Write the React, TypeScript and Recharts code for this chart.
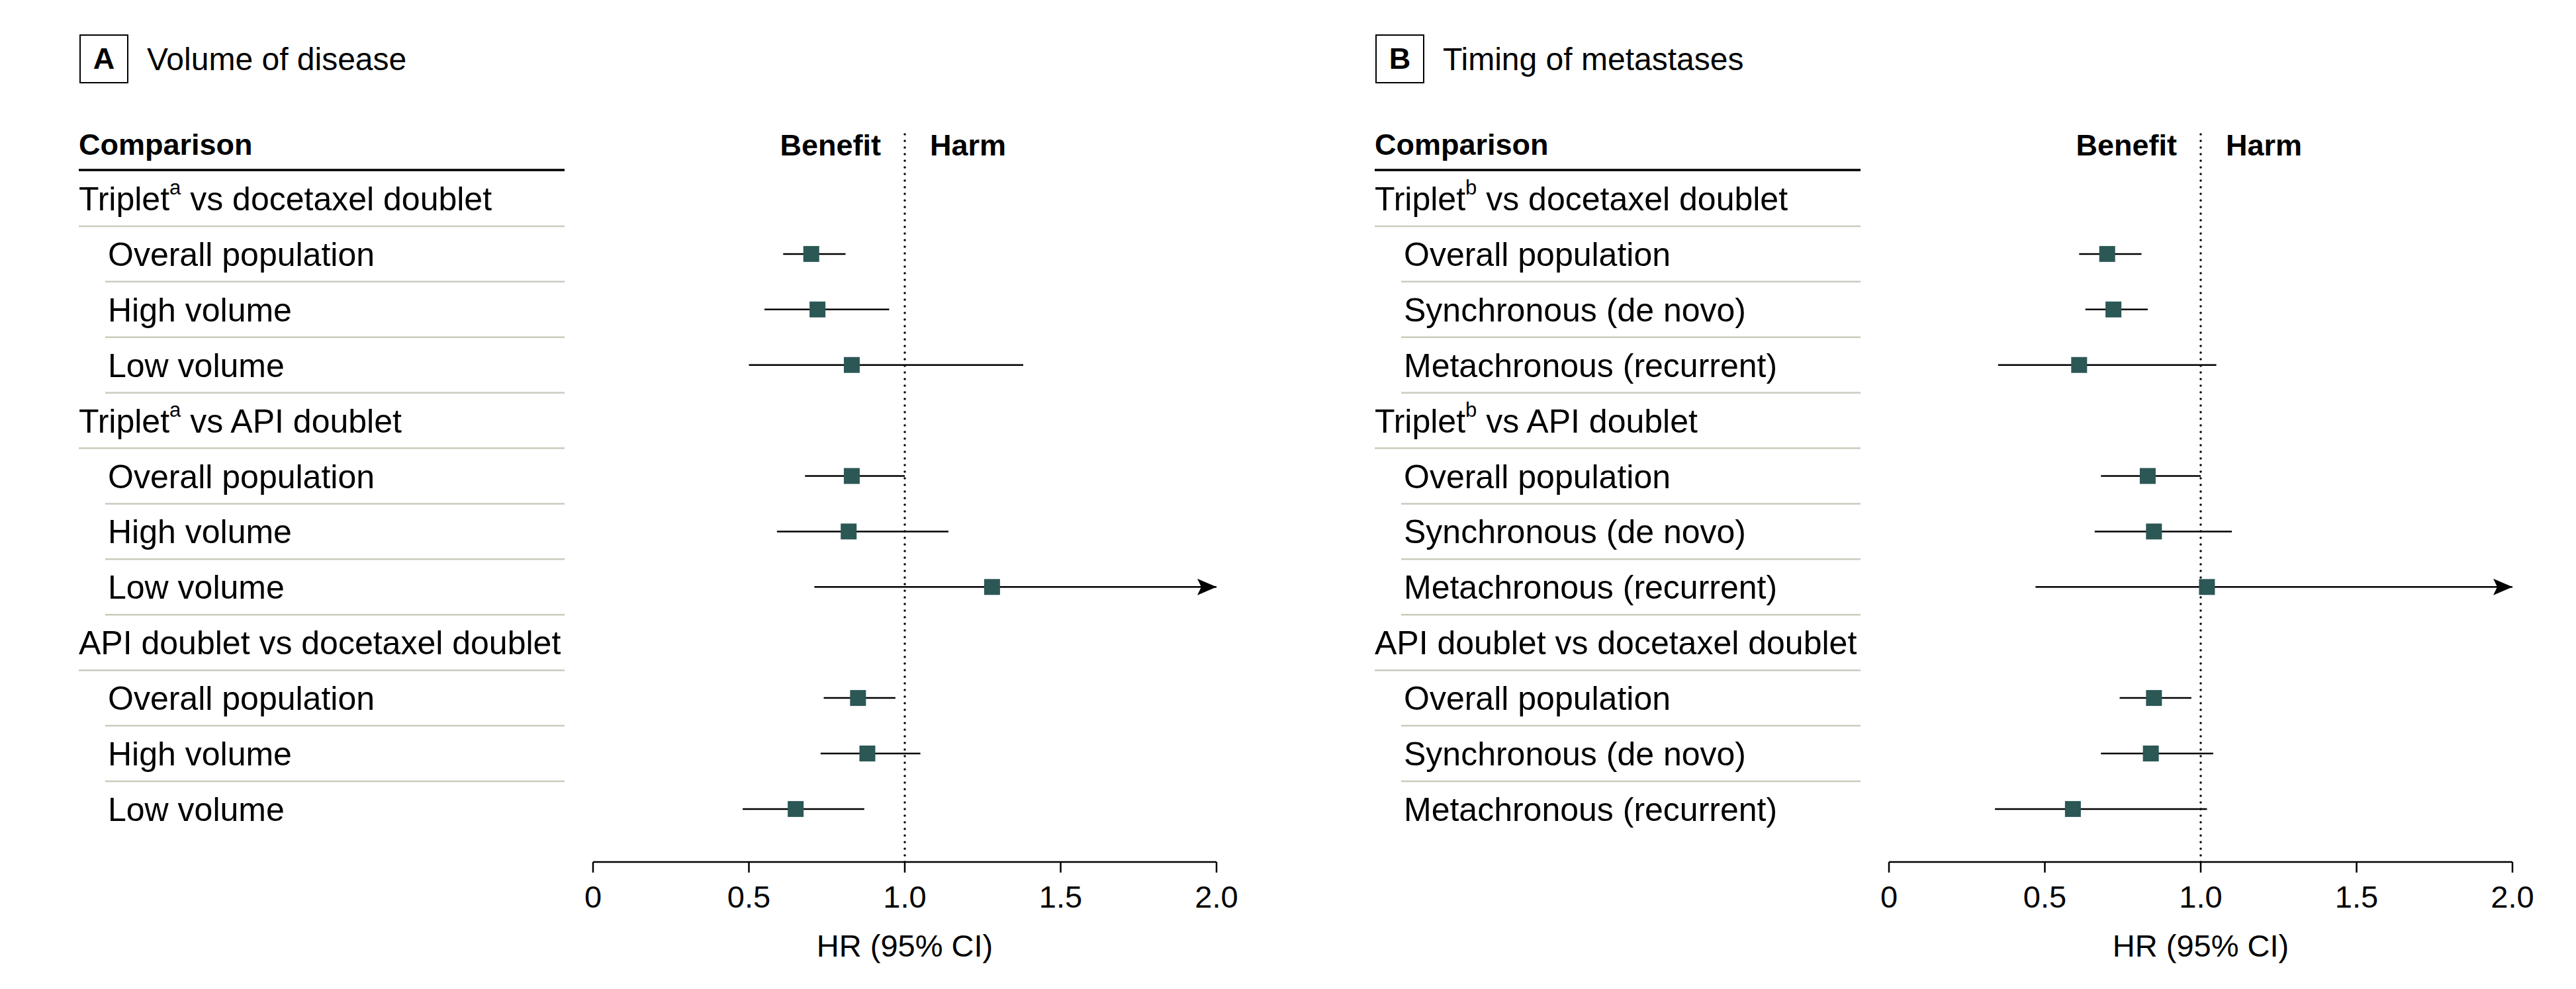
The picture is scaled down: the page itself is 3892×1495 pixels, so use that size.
import { ErrorBar, ReferenceLine, Scatter, ScatterChart, XAxis, YAxis } from 'recharts'

const FONT = '"Liberation Sans", Arial, sans-serif'
const X_MAX = 2
// upper CI runs past the end of the axis, drawn as an arrow
const PAST_AXIS = Infinity

const xTicks = [0, 0.5, 1, 1.5, 2]

// Panel A: volume of disease
const volumeLabels = [
  'Triplet^a vs docetaxel doublet',
  'Overall population',
  'High volume',
  'Low volume',
  'Triplet^a vs API doublet',
  'Overall population',
  'High volume',
  'Low volume',
  'API doublet vs docetaxel doublet',
  'Overall population',
  'High volume',
  'Low volume',
]
const volumeHr = [null, 0.7, 0.72, 0.83, null, 0.83, 0.82, 1.28, null, 0.85, 0.88, 0.65]
const volumeLow = [null, 0.61, 0.55, 0.5, null, 0.68, 0.59, 0.71, null, 0.74, 0.73, 0.48]
const volumeHigh = [null, 0.81, 0.95, 1.38, null, 1.0, 1.14, PAST_AXIS, null, 0.97, 1.05, 0.87]

// Panel B: timing of metastases
const timingLabels = [
  'Triplet^b vs docetaxel doublet',
  'Overall population',
  'Synchronous (de novo)',
  'Metachronous (recurrent)',
  'Triplet^b vs API doublet',
  'Overall population',
  'Synchronous (de novo)',
  'Metachronous (recurrent)',
  'API doublet vs docetaxel doublet',
  'Overall population',
  'Synchronous (de novo)',
  'Metachronous (recurrent)',
]
const timingHr = [null, 0.7, 0.72, 0.61, null, 0.83, 0.85, 1.02, null, 0.85, 0.84, 0.59]
const timingLow = [null, 0.61, 0.63, 0.35, null, 0.68, 0.66, 0.47, null, 0.74, 0.68, 0.34]
const timingHigh = [null, 0.81, 0.83, 1.05, null, 1.0, 1.1, PAST_AXIS, null, 0.97, 1.04, 1.02]

// layout (px, inside each panel)
const CHART_H = 1495
const PLOT_LEFT = 896
const PLOT_RIGHT = 1838
const PLOT_TOP = 200
const PLOT_BOTTOM = 1303
const FIRST_ROW_Y = 300
const ROW_H = 83.9
const LABEL_X = 119
const SUB_X = 163
const COL_RIGHT = 853
const TEAL = '#2b5755'
const RULE = '#c9ccbd'

type Num = number | null

function buildPoints(hr: Num[], lo: Num[], hi: Num[]) {
  return hr
    .map((v, i) =>
      v == null ? null : { y: i, x: v, err: [v - (lo[i] as number), Math.min(hi[i] as number, X_MAX) - v] },
    )
    .filter(Boolean)
}

function buildArrows(hi: Num[]) {
  return hi.map((v, i) => (v != null && v > X_MAX ? { y: i, x: X_MAX } : null)).filter(Boolean)
}

function RowTick(props: any) {
  const { y, payload, labels, hr } = props
  const i = payload.value as number
  const label: string = labels[i]
  const isGroup = hr[i] == null
  const m = label.match(/^(.*?)\^(\w)(.*)$/)
  return (
    <g>
      <text x={isGroup ? LABEL_X : SUB_X} y={y} dy="0.36em" fontSize={50} fontFamily={FONT} fill="#000">
        {m ? (
          <>
            {m[1]}
            <tspan dy={-24} fontSize={31}>
              {m[2]}
            </tspan>
            <tspan dy={24}>{m[3]}</tspan>
          </>
        ) : (
          label
        )}
      </text>
      {i < labels.length - 1 && (
        <line
          x1={isGroup ? LABEL_X : SUB_X - 4}
          x2={COL_RIGHT}
          y1={y + ROW_H / 2}
          y2={y + ROW_H / 2}
          stroke={RULE}
          strokeWidth={2.5}
        />
      )}
    </g>
  )
}

function ColumnHeader() {
  return (
    <g>
      <text x={LABEL_X} y={218} dy="0.36em" fontSize={45} fontWeight="bold" fontFamily={FONT} fill="#000">
        Comparison
      </text>
      <line x1={LABEL_X} x2={COL_RIGHT} y1={257} y2={257} stroke="#000" strokeWidth={3.5} />
    </g>
  )
}

function BenefitHarm(props: any) {
  const x = props.viewBox?.x ?? 0
  const y = PLOT_TOP + 19
  return (
    <g fontSize={45} fontWeight="bold" fontFamily={FONT} fill="#000">
      <text x={x - 36} y={y} dy="0.36em" textAnchor="end">
        Benefit
      </text>
      <text x={x + 38} y={y} dy="0.36em" textAnchor="start">
        Harm
      </text>
    </g>
  )
}

const Square = ({ cx, cy }: any) => <rect x={cx - 12} y={cy - 12} width={24} height={24} fill={TEAL} />

const ArrowHead = ({ cx, cy }: any) => (
  <path d={`M${cx},${cy} L${cx - 29},${cy - 12.5} L${cx - 23},${cy} L${cx - 29},${cy + 12.5} Z`} fill="#000" />
)

interface PanelProps {
  left: number
  width: number
  letter: string
  title: string
  labels: string[]
  hr: Num[]
  lo: Num[]
  hi: Num[]
}

function ForestPanel({ left, width, letter, title, labels, hr, lo, hi }: PanelProps) {
  const points = buildPoints(hr, lo, hi)
  const arrows = buildArrows(hi)
  const rowTicks = labels.map((_, i) => i)
  const yDomain = [-(FIRST_ROW_Y - PLOT_TOP) / ROW_H, (PLOT_BOTTOM - FIRST_ROW_Y) / ROW_H]
  return (
    <div style={{ position: 'absolute', left, top: 0, width, height: CHART_H }}>
      <div
        style={{
          position: 'absolute',
          left: 120,
          top: 52,
          width: 74,
          height: 74,
          boxSizing: 'border-box',
          border: '2px solid #000',
          display: 'flex',
          alignItems: 'center',
          justifyContent: 'center',
          fontFamily: FONT,
          fontWeight: 'bold',
          fontSize: 45,
        }}
      >
        {letter}
      </div>
      <div
        style={{
          position: 'absolute',
          left: 222,
          top: 52,
          height: 74,
          display: 'flex',
          alignItems: 'center',
          fontFamily: FONT,
          fontSize: 48,
          whiteSpace: 'nowrap',
        }}
      >
        {title}
      </div>
      <ScatterChart
        width={width}
        height={CHART_H}
        margin={{ top: PLOT_TOP, right: width - PLOT_RIGHT, bottom: 0, left: 0 }}
        style={{ position: 'absolute', left: 0, top: 0 }}
      >
        <XAxis
          type="number"
          dataKey="x"
          domain={[0, X_MAX]}
          ticks={xTicks}
          allowDataOverflow
          tickFormatter={(v: number) => (v === 0 ? '0' : v.toFixed(1))}
          tick={{ fill: '#000', fontSize: 47, fontFamily: FONT }}
          axisLine={{ stroke: '#000', strokeWidth: 2.5 }}
          tickLine={{ stroke: '#000', strokeWidth: 2.5 }}
          tickSize={16}
          tickMargin={20}
          height={CHART_H - PLOT_BOTTOM}
          label={{
            value: 'HR (95% CI)',
            position: 'insideBottom',
            offset: 49,
            fill: '#000',
            fontSize: 47,
            fontFamily: FONT,
          }}
        />
        <YAxis
          type="number"
          dataKey="y"
          reversed
          domain={yDomain}
          allowDataOverflow
          ticks={rowTicks}
          interval={0}
          width={PLOT_LEFT}
          axisLine={false}
          tickLine={false}
          tick={<RowTick labels={labels} hr={hr} />}
          label={<ColumnHeader />}
        />
        <ReferenceLine
          x={1}
          stroke="#000"
          strokeWidth={3.5}
          strokeDasharray="0 10"
          strokeLinecap="round"
          label={<BenefitHarm />}
        />
        <Scatter data={points} shape={Square} isAnimationActive={false}>
          <ErrorBar dataKey="err" direction="x" width={0} stroke="#000" strokeWidth={2.5} isAnimationActive={false} />
        </Scatter>
        <Scatter data={arrows} shape={ArrowHead} isAnimationActive={false} />
      </ScatterChart>
    </div>
  )
}

export default function App() {
  return (
    <div
      style={{
        position: 'absolute',
        left: 0,
        top: 0,
        width: 3892,
        height: CHART_H,
        background: '#fff',
        overflow: 'hidden',
      }}
    >
      <ForestPanel
        left={0}
        width={1958}
        letter="A"
        title="Volume of disease"
        labels={volumeLabels}
        hr={volumeHr}
        lo={volumeLow}
        hi={volumeHigh}
      />
      <ForestPanel
        left={1958}
        width={3892 - 1958}
        letter="B"
        title="Timing of metastases"
        labels={timingLabels}
        hr={timingHr}
        lo={timingLow}
        hi={timingHigh}
      />
    </div>
  )
}
